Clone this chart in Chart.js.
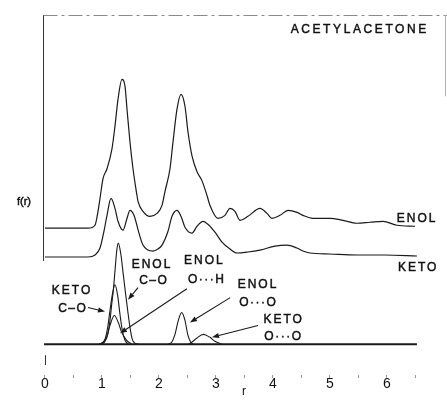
<!DOCTYPE html>
<html><head><meta charset="utf-8">
<script src="https://cdn.jsdelivr.net/npm/chart.js@4/dist/chart.umd.min.js"></script>
<style>html,body{margin:0;padding:0;background:#fff;}#wrap{width:447px;height:405px;}</style>
</head><body><div id="wrap"><canvas id="c" width="447" height="405"></canvas></div>
<script>
// ---- data (r in Å, f(r) in arbitrary units; curves offset as in the figure) ----
const tickValues = [0,0.5,1,1.5,2,2.5,3,3.5,4,4.5,5,5.5,6,6.5];
const tickLabels = ['0','','1','','2','','3','','4','','5','','6',''];

const enolR = [0,0.754,0.877,0.930,0.965,1.018,1.088,1.175,1.228,1.281,1.351,1.404,1.439,1.491,1.544,1.614,1.632,1.719,1.842,1.965,2.053,2.105,2.193,2.246,2.316,2.386,2.456,2.509,2.579,2.667,2.754,2.842,2.895,3.035,3.158,3.246,3.333,3.421,3.561,3.772,3.895,3.982,4.123,4.263,4.421,4.526,4.702,5.000,5.228,5.474,5.702,5.930,6.175,6.491];
const enolF = [117,117,120,134,147,167,177,197,220,247,267,260,237,204,177,150,144,134,129,132,140,154,177,204,237,252,240,214,190,174,165,150,140,127,130,137,134,125,129,137,132,127,130,135,133,130,127,127,125,122,123,124,120,119];

const ketoR = [0,0.754,0.877,0.965,1.035,1.088,1.158,1.228,1.281,1.368,1.439,1.491,1.561,1.649,1.719,1.807,1.895,1.982,2.053,2.158,2.228,2.316,2.386,2.456,2.579,2.667,2.772,2.877,2.982,3.105,3.246,3.368,3.561,3.772,4.035,4.246,4.421,4.526,4.649,5.000,5.474,5.965,6.526];
const ketoF = [88,88,90,97,114,130,147,137,124,115,127,135,130,112,100,95,94,96,100,114,129,135,129,118,112,119,124,120,113,103,96,92,93,95,99,100,97,94,92,91,90,90,89];

const enolCOR = [0.95,1.023,1.100,1.140,1.170,1.198,1.228,1.258,1.286,1.333,1.374,1.416,1.451,1.491,1.532,1.579,1.65];
const enolCOF = [0,1,10,24,40,54,74,94,102,90,70,50,34,17,5,1,0];

const ketoCOR = [0.95,0.995,1.053,1.100,1.140,1.181,1.228,1.275,1.316,1.356,1.404,1.461];
const ketoCOF = [0,1,5,17,34,50,60,49,30,14,4,0];

const enolOHR = [0.95,0.995,1.082,1.140,1.216,1.286,1.346,1.433,1.521];
const enolOHF = [0,1,7,19,29,22,12,4,0];

const enolOOR = [2.163,2.223,2.281,2.339,2.398,2.456,2.504,2.556,2.602];
const enolOOF = [0,2,10,24,32,24,10,2,0];

const ketoOOR = [2.514,2.574,2.661,2.777,2.895,2.982,3.100];
const ketoOOF = [0,2,6,10,7,3,0];

const baseR = [-0.018,6.526];
const baseF = [0,0];

// ---- build ----
const pts = (xs, ys) => xs.map((x,i)=>({x:x, y:ys[i]}));
const ink = '#1a1a1a';
function ds(xs, ys, w){
  return {data: pts(xs,ys), borderColor: ink, borderWidth: w||1.2, pointRadius:0,
          fill:false, cubicInterpolationMode:'monotone'};
}

const labels = [
  {t:'ACETYLACETONE', r:5.50, f:317, size:12, sp:2.6},
  {t:'ENOL', r:6.51, f:127, size:12, sp:2},
  {t:'KETO', r:6.53, f:77, size:12, sp:2},
  {t:'KETO', r:0.456, f:54, size:12, sp:2},
  {t:'C–O', r:0.474, f:36, size:12, sp:1.5},
  {t:'ENOL', r:1.86, f:80, size:12, sp:2},
  {t:'C–O', r:1.895, f:64.5, size:12, sp:1.5},
  {t:'ENOL', r:2.78, f:84, size:12, sp:2},
  {t:'O···H', r:2.825, f:65, size:12, sp:1.5},
  {t:'ENOL', r:3.72, f:60, size:12, sp:2},
  {t:'O···O', r:3.73, f:42, size:12, sp:1.5},
  {t:'KETO', r:4.17, f:25, size:12, sp:2},
  {t:'O···O', r:4.17, f:8, size:12, sp:1.5}
];
const arrows = [
  {r0:0.754, f0:37, r1:1.053, f1:33},
  {r0:1.632, f0:57, r1:1.456, f1:45},
  {r0:2.49, f0:56, r1:1.316, f1:11},
  {r0:3.25, f0:47, r1:2.544, f1:22},
  {r0:3.737, f0:19, r1:2.93, f1:7}
];

const deco = {
  id:'deco',
  afterDatasetsDraw(chart){
    const ctx = chart.ctx, xs = chart.scales.x, ys = chart.scales.y;
    const X = v=>xs.getPixelForValue(v), Y = v=>ys.getPixelForValue(v);
    ctx.save();
    // frame remnants: left axis and dashed top border
    ctx.strokeStyle = '#333'; ctx.lineWidth = 1;
    const lx = chart.chartArea.left + 0.5;
    ctx.beginPath(); ctx.moveTo(lx, Y(332)); ctx.lineTo(lx, Y(84)); ctx.stroke();
    ctx.beginPath(); ctx.moveTo(X(0)+0.5, Y(-11)); ctx.lineTo(X(0)+0.5, Y(-21)); ctx.stroke();
    ctx.strokeStyle = '#8a8a8a'; ctx.setLineDash([14,4,3,4]);
    ctx.beginPath(); ctx.moveTo(lx, Y(332)+0.5); ctx.lineTo(chart.width, Y(332)+0.5); ctx.stroke();
    ctx.setLineDash([]);
    ctx.strokeStyle = '#b0b0b0';
    ctx.beginPath(); ctx.moveTo(chart.chartArea.right+0.5, Y(332)); ctx.lineTo(chart.chartArea.right+0.5, Y(250)); ctx.stroke();
    // labels
    ctx.fillStyle = '#111'; ctx.strokeStyle = '#111'; ctx.lineWidth = 0.45;
    ctx.textAlign = 'center'; ctx.textBaseline = 'middle';
    labels.forEach(l=>{
      ctx.font = l.size + 'px "Liberation Sans", Arial, sans-serif';
      ctx.letterSpacing = l.sp + 'px';
      ctx.fillText(l.t, X(l.r) + l.sp/2, Y(l.f));
      ctx.strokeText(l.t, X(l.r) + l.sp/2, Y(l.f));
    });
    ctx.letterSpacing = '0px';
    ctx.font = '11px "Liberation Sans", Arial, sans-serif';
    ctx.fillText('f(r)', 24, Y(143));
    ctx.strokeText('f(r)', 24, Y(143));
    // arrows
    ctx.strokeStyle = ink; ctx.fillStyle = ink; ctx.lineWidth = 1.1;
    arrows.forEach(a=>{
      const x0=X(a.r0), y0=Y(a.f0), x1=X(a.r1), y1=Y(a.f1);
      const ang = Math.atan2(y1-y0, x1-x0), L = 7, W = 2.6;
      const bx = x1 - L*Math.cos(ang), by = y1 - L*Math.sin(ang);
      ctx.beginPath(); ctx.moveTo(x0,y0); ctx.lineTo(bx,by); ctx.stroke();
      ctx.beginPath(); ctx.moveTo(x1,y1);
      ctx.lineTo(bx + W*Math.sin(ang), by - W*Math.cos(ang));
      ctx.lineTo(bx - W*Math.sin(ang), by + W*Math.cos(ang));
      ctx.closePath(); ctx.fill();
    });
    ctx.restore();
  }
};

new Chart(document.getElementById('c'), {
  type:'line',
  data:{datasets:[
    ds(enolR, enolF), ds(ketoR, ketoF),
    ds(enolCOR, enolCOF, 1.1), ds(ketoCOR, ketoCOF, 1.1), ds(enolOHR, enolOHF, 1.1),
    ds(enolOOR, enolOOF, 1.1), ds(ketoOOR, ketoOOF, 1.1), ds(baseR, baseF, 1.8)
  ]},
  options:{
    responsive:false, animation:false, devicePixelRatio:1,
    layout:{padding:{left:43, right:2, top:15, bottom:0}},
    plugins:{legend:{display:false}, tooltip:{enabled:false}},
    scales:{
      x:{type:'linear', min:-0.035, max:7.018,
         afterBuildTicks(s){ s.ticks = tickValues.map(v=>({value:v})); },
         ticks:{autoSkip:false, maxRotation:0, padding:2, color:'#111',
                font:{size:14, family:'"Liberation Sans", Arial, sans-serif', lineHeight:0.6},
                callback:(v,i)=>tickLabels[i]},
         grid:{drawOnChartArea:false, tickLength:3, color:'#999', lineWidth:1},
         border:{display:false},
         title:{display:true, text:'r', color:'#111', padding:{top:0,bottom:11.6},
                font:{size:12, family:'"Liberation Sans", Arial, sans-serif', lineHeight:0.25}}},
      y:{display:false, min:-31, max:332}
    }
  },
  plugins:[deco]
});
</script></body></html>
